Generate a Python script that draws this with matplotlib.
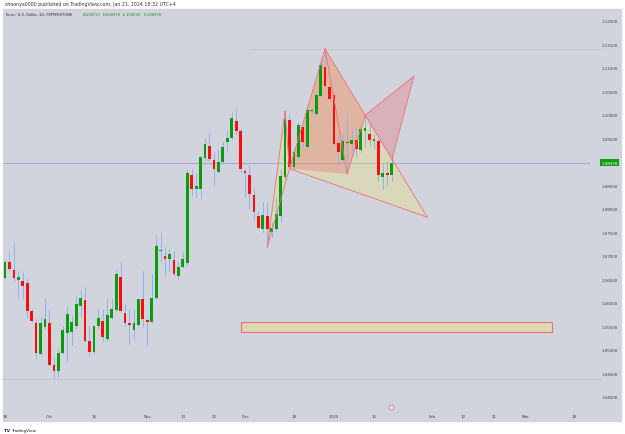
import numpy as np
import pandas as pd
import matplotlib
matplotlib.use("Agg")
import matplotlib.pyplot as plt
from matplotlib.patches import Rectangle, Polygon
from matplotlib.transforms import blended_transform_factory

# EUR/USD daily candles, 18 Sep 2023 .. 19 Jan 2024
opens = [1.0652, 1.0686, 1.0670, 1.0649, 1.0646, 1.0642, 1.0583, 1.0557, 1.0491, 1.0548,
         1.0557, 1.0467, 1.0455, 1.0493, 1.0536, 1.0538, 1.0551, 1.0592, 1.0606, 1.0518,
         1.0496, 1.0550, 1.0561, 1.0523, 1.0568, 1.0585, 1.0655, 1.0578, 1.0557, 1.0543,
         1.0553, 1.0607, 1.0563, 1.0558, 1.0611, 1.0711, 1.0700, 1.0692, 1.0691, 1.0657,
         1.0677, 1.0685, 1.0872, 1.0842, 1.0842, 1.0907, 1.0933, 1.0904, 1.0879, 1.0899,
         1.0941, 1.0950, 1.0987, 1.0966, 1.0881, 1.0872, 1.0829, 1.0785, 1.0757, 1.0785,
         1.0750, 1.0757, 1.0785, 1.0867, 1.0989, 1.0888, 1.0909, 1.0973, 1.0931, 1.1007,
         1.1002, 1.1039, 1.1101, 1.1058, 1.1042, 1.0939, 1.0904, 1.0941, 1.0938, 1.0947,
         1.0924, 1.0966, 1.0959, 1.0944, 1.0945, 1.0867, 1.0877, 1.08713]
highs = [1.0693, 1.0711, 1.0730, 1.0667, 1.0666, 1.0650, 1.0587, 1.0566, 1.0569, 1.0609,
         1.0584, 1.0484, 1.0502, 1.0551, 1.0594, 1.0572, 1.0615, 1.0627, 1.0633, 1.0551,
         1.0551, 1.0587, 1.0587, 1.0609, 1.0607, 1.0672, 1.0687, 1.0597, 1.0587, 1.0587,
         1.0608, 1.0668, 1.0565, 1.0661, 1.0743, 1.0750, 1.0718, 1.0714, 1.0711, 1.0689,
         1.0707, 1.0884, 1.0884, 1.0874, 1.0913, 1.0950, 1.0964, 1.0920, 1.0927, 1.0945,
         1.0966, 1.1006, 1.1015, 1.0970, 1.0884, 1.0892, 1.0843, 1.0796, 1.0814, 1.0814,
         1.0771, 1.0824, 1.0885, 1.1009, 1.1002, 1.0927, 1.0984, 1.0978, 1.1012, 1.1016,
         1.1048, 1.1122, 1.1140, 1.1065, 1.1044, 1.0955, 1.0959, 1.0998, 1.0970, 1.0973,
         1.0977, 1.0998, 1.0985, 1.0959, 1.0948, 1.0895, 1.0902, 1.0916]
lows = [1.0650, 1.0668, 1.0647, 1.0608, 1.0608, 1.0567, 1.0558, 1.0480, 1.0489, 1.0544,
        1.0466, 1.0438, 1.0441, 1.0491, 1.0473, 1.0509, 1.0544, 1.0572, 1.0516, 1.0487,
        1.0493, 1.0544, 1.0519, 1.0519, 1.0565, 1.0583, 1.0581, 1.0551, 1.0512, 1.0523,
        1.0551, 1.0548, 1.0507, 1.0557, 1.0608, 1.0686, 1.0657, 1.0665, 1.0657, 1.0650,
        1.0674, 1.0679, 1.0828, 1.0824, 1.0821, 1.0902, 1.0902, 1.0849, 1.0877, 1.0895,
        1.0923, 1.0948, 1.0959, 1.0877, 1.0825, 1.0800, 1.0775, 1.0757, 1.0750, 1.0718,
        1.0739, 1.0753, 1.0771, 1.0863, 1.0885, 1.0885, 1.0906, 1.0934, 1.0927, 1.1002,
        1.0998, 1.1037, 1.1058, 1.1030, 1.0936, 1.0892, 1.0899, 1.0878, 1.0920, 1.0909,
        1.0920, 1.0931, 1.0934, 1.0927, 1.0860, 1.0842, 1.0849, 1.0859]
closes = [1.0686, 1.0672, 1.0653, 1.0654, 1.0636, 1.0583, 1.0562, 1.0493, 1.0557, 1.0565,
          1.0467, 1.0455, 1.0493, 1.0542, 1.0575, 1.0558, 1.0597, 1.0611, 1.0519, 1.0496,
          1.0550, 1.0567, 1.0526, 1.0574, 1.0587, 1.0661, 1.0583, 1.0557, 1.0553, 1.0557,
          1.0607, 1.0565, 1.0560, 1.0611, 1.0721, 1.0712, 1.0693, 1.0704, 1.0661, 1.0677,
          1.0692, 1.0875, 1.0842, 1.0849, 1.0909, 1.0938, 1.0906, 1.0884, 1.0900, 1.0931,
          1.0950, 1.0992, 1.0966, 1.0884, 1.0877, 1.0831, 1.0792, 1.0758, 1.0787, 1.0757,
          1.0758, 1.0789, 1.0870, 1.0991, 1.0888, 1.0920, 1.0978, 1.0941, 1.1009, 1.1011,
          1.1041, 1.1106, 1.1062, 1.1033, 1.0938, 1.0920, 1.0943, 1.0939, 1.0947, 1.0927,
          1.0970, 1.0971, 1.0947, 1.0948, 1.0872, 1.0877, 1.0872, 1.08978]

holidays = ["2023-12-25", "2024-01-01"]
tick_dates = ["2023-09-18", "2023-10-02", "2023-10-16", "2023-11-01", "2023-11-13",
              "2023-11-22", "2023-12-01", "2023-12-18", "2024-01-02", "2024-01-15",
              "2024-02-01", "2024-02-12", "2024-02-21", "2024-03-01", "2024-03-18"]
tick_text = ["18", "Oct", "16", "Nov", "13", "22", "Dec", "18", "2024", "15",
             "Feb", "12", "21", "Mar", "18"]
price_ticks = [1.040, 1.045, 1.050, 1.055, 1.060, 1.065, 1.070, 1.075, 1.080,
               1.085, 1.095, 1.100, 1.105, 1.110, 1.115, 1.120]
last_price = 1.08978

# drawings on the chart: (date, price)
yellow_xab = [("2023-12-08", 1.0718), ("2023-12-14", 1.1008), ("2023-12-15", 1.0885)]
yellow_bcd = [("2023-12-15", 1.0885), ("2023-12-28", 1.1140), ("2024-01-31", 1.0782)]
pink_quad = [("2023-12-15", 1.0885), ("2023-12-28", 1.1140), ("2024-01-11", 1.0999),
             ("2024-01-05", 1.0874)]
pink_tri = [("2024-01-11", 1.0999), ("2024-01-26", 1.1082), ("2024-01-19", 1.0904)]
zone_dates = ["2023-11-30", "2024-03-11"]
zone_prices = [1.0538, 1.0560]
high_line = ("2023-12-04", 1.1140)
low_line = ("2023-09-18", 1.0438)

days = pd.bdate_range("2023-09-18", "2024-03-29")
days = days[~days.isin(pd.to_datetime(holidays))]
pos = {d: i for i, d in enumerate(days)}
def ix(s):
    return pos[pd.Timestamp(s)]

W, H = 625, 435
bg = "#d1d4dc"
green = "#0c9b0c"
red = "#fb0d0d"
wick = "#8fb2ea"
pink_line = "#ee6d7b"

fig = plt.figure(figsize=(W / 100, H / 100), dpi=100, facecolor="white")
fig.patches.append(Rectangle((3 / W, 1 - 422 / H), 618 / W, 412 / H,
                             transform=fig.transFigure, color=bg, zorder=-5))
ax = fig.add_axes([3 / W, 1 - 412 / H, 587 / W, 402 / H])
ax.set_zorder(2)
ax.set_facecolor(bg)
for s in ax.spines.values():
    s.set_visible(False)

n = len(closes)
x = np.arange(n)
o, h, l, c = map(np.array, (opens, highs, lows, closes))
up = c >= o
ax.vlines(x, l, h, color=wick, lw=0.7, zorder=2)
body = np.maximum(np.abs(c - o), 0.00008)
ax.bar(x, body, bottom=np.minimum(o, c), width=0.62,
       color=np.where(up, green, red), zorder=3)

# horizontal lines
ax.axhline(last_price, color="#a29cd2", lw=0.6, zorder=1)
ax.hlines(high_line[1], ix(high_line[0]), 134, color="#a9acb6", lw=0.5,
          linestyle=(0, (1, 1)), zorder=1, clip_on=False)
ax.hlines(low_line[1], -1, 134, color="#a9acb6", lw=0.5,
          linestyle=(0, (1, 1)), zorder=1, clip_on=False)

# pattern drawings
def pts(lst):
    return [(ix(d), p) for d, p in lst]

for tri in (yellow_xab, yellow_bcd):
    ax.add_patch(Polygon(pts(tri), closed=True, facecolor="#ffeb3b", alpha=0.2,
                         edgecolor="none", zorder=1))
for poly in (pink_quad, pink_tri):
    ax.add_patch(Polygon(pts(poly), closed=True, facecolor="#f23645", alpha=0.22,
                         edgecolor="none", zorder=1.5))

X, A, B = pts(yellow_xab)
_, C, D = pts(yellow_bcd)
E, F = pts(pink_quad)[2], pts(pink_quad)[3]
_, G, Hh = pts(pink_tri)
for p1, p2 in [(X, A), (A, B), (X, B), (B, C), (C, D), (B, D), (C, F), (F, E),
               (E, G), (G, Hh)]:
    ax.plot([p1[0], p2[0]], [p1[1], p2[1]], color=pink_line, lw=0.6, zorder=4)

zx0, zx1 = ix(zone_dates[0]), ix(zone_dates[1])
ax.add_patch(Rectangle((zx0, zone_prices[0]), zx1 - zx0, zone_prices[1] - zone_prices[0],
                       facecolor="#ddd7b4", edgecolor="#e8727a", lw=0.8, zorder=2))

ax.set_xlim(-0.45, 131.6)
ax.set_ylim(1.03696, 1.12249)

ax.set_xticks([ix(d) for d in tick_dates])
ax.set_xticklabels(tick_text)
ax.set_yticks(price_ticks)
ax.set_yticklabels([f"{v:.5f}" for v in price_ticks])
ax.yaxis.tick_right()
ax.tick_params(axis="y", length=0, pad=8, labelsize=2.9, labelcolor="#3a3d45")
ax.tick_params(axis="x", length=0, pad=2.5, labelsize=2.9, labelcolor="#3a3d45")

# last price label
lt = blended_transform_factory(fig.transFigure, ax.transData)
ax.text(609.5 / W, last_price, f"{last_price:.5f}", transform=lt,
        ha="center", va="center", fontsize=2.9, color="white",
        bbox=dict(boxstyle="square,pad=0.35", fc="#159a15", ec="none"))

# idea marker on time axis
tb = blended_transform_factory(ax.transData, ax.transAxes)
ax.plot([86.9], [0.01], transform=tb, marker="o", ms=3.6, mfc="#f4e6ee",
        mec="#e07596", mew=0.6, clip_on=False, zorder=5)

# header texts
fig.text(5 / W, 1 - 4.5 / H,
         "shoonya0000 published on TradingView.com, Jan 21, 2024 18:32 UTC+4",
         fontsize=3.4, color="#333333", va="center", ha="left")
fig.text(6 / W, 1 - 15 / H, "Euro / U.S. Dollar, 1D, PEPPERSTONE",
         fontsize=2.6, color="#2a2e39", va="center", ha="left", zorder=5)
for xp, lab, val in [(83, "O", "1.08713"), (103, "H", "1.08978"),
                     (123, "L", "1.08590"), (144, "C", "1.08978")]:
    fig.text(xp / W, 1 - 15 / H, lab, fontsize=2.6, color="#2a2e39",
             va="center", ha="left", zorder=5)
    fig.text((xp + 2.8) / W, 1 - 15 / H, val, fontsize=2.6, color="#139a13",
             va="center", ha="left", zorder=5)

fig.text(4 / W, 1 - 431 / H, "TV", fontsize=3.0, fontweight="bold",
         color="#131722", va="center", ha="left")
fig.text(11 / W, 1 - 431 / H, "TradingView", fontsize=3.0, color="#131722",
         va="center", ha="left")

fig.savefig("out.png", dpi=100, facecolor="white")
